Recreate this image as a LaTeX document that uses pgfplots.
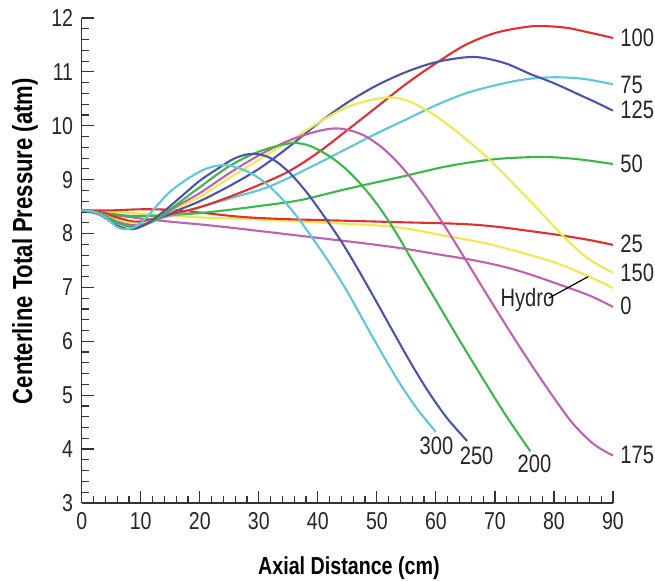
\documentclass[border=0pt]{standalone}
\usepackage{pgfplots}
\pgfplotsset{compat=1.18}
\usepackage{fontspec}
\setmainfont{Liberation Sans}[FakeStretch=0.8]
\definecolor{cR}{HTML}{E0302F}
\definecolor{cC}{HTML}{5EC8D8}
\definecolor{cB}{HTML}{4A55A8}
\definecolor{cG}{HTML}{3CB84A}
\definecolor{cM}{HTML}{C060B0}
\definecolor{cY}{HTML}{F0E850}
\definecolor{axc}{HTML}{333333}
\tikzset{lbl/.style={font=\fontsize{12.6}{15}\selectfont, text=black!85, inner sep=0pt}}
\begin{document}
\begin{tikzpicture}
\begin{axis}[
  scale only axis, width=265.65pt, height=242.5pt,
  xmin=0, xmax=90, ymin=3, ymax=12,
  axis x line*=bottom, axis y line*=left,
  xtick pos=left, ytick pos=left,
  tick align=inside,
  xtick={0,10,...,90}, ytick={3,4,...,12},
  minor x tick num=4, minor y tick num=4,
  major tick length=6pt, minor tick length=3.7pt,
  axis line style={axc, line width=0.7pt},
  every tick/.style={axc, line width=0.6pt},
  tick label style={font=\fontsize{12.2}{14}\selectfont, text=black!85},
  /pgf/number format/assume math mode=true,
  yticklabel style={xshift=-0.8pt},
  xticklabel style={yshift=-1.0pt},
  xlabel={\textbf{Axial Distance (cm)}},
  ylabel={\textbf{Centerline Total Pressure (atm)}},
  xlabel style={font=\fontsize{12.3}{14}\selectfont, at={(axis description cs:0.503,-0.134)}, anchor=center},
  ylabel style={font=\fontsize{13.8}{15}\selectfont, at={(axis description cs:-0.1067,0.54)}, anchor=center},
  clip=false,
  every axis plot/.append style={line width=1.05pt, smooth, tension=0.55},
]
% 0 (magenta)
\addplot[cM] coordinates {(0,8.43)(5,8.35)(10,8.28)(15,8.22)(20,8.17)(26,8.1)(33,8.01)(40,7.92)(47,7.83)(54,7.73)(60,7.62)(64,7.55)(68,7.47)(72,7.37)(76,7.24)(81,7.05)(86,6.85)(90,6.64)};
% Hydro (yellow)
\addplot[cY] coordinates {(0,8.43)(5,8.4)(10,8.37)(15,8.33)(20,8.3)(25,8.28)(30,8.26)(39,8.21)(47,8.17)(54,8.11)(62,7.95)(68,7.83)(72,7.72)(76,7.6)(81,7.43)(86,7.2)(90,6.99)};
% 25 (red)
\addplot[cR] coordinates {(0,8.43)(5,8.43)(10,8.45)(15,8.44)(20,8.39)(27,8.31)(34,8.27)(44,8.24)(54,8.21)(64,8.18)(70,8.13)(75,8.06)(81,7.97)(86,7.88)(90,7.79)};
% 50 (green)
\addplot[cG] coordinates {(0,8.43)(4,8.38)(8,8.33)(12,8.33)(16,8.35)(20,8.38)(25,8.44)(30,8.51)(37,8.62)(45,8.83)(54,9.05)(62,9.25)(70,9.38)(78,9.42)(84,9.38)(90,9.29)};
% 75 (cyan)
\addplot[cC] coordinates {(0,8.43)(3,8.38)(6,8.28)(10,8.2)(14,8.3)(18,8.42)(22,8.55)(26,8.68)(31,8.84)(35,9.03)(40,9.3)(45,9.58)(50,9.86)(55,10.12)(60,10.38)(65,10.6)(70,10.75)(75,10.86)(80,10.9)(85,10.87)(90,10.77)};
% 100 (red)
\addplot[cR] coordinates {(0,8.43)(3,8.4)(6,8.3)(9,8.22)(12,8.27)(16,8.38)(20,8.49)(25,8.68)(30,8.9)(35,9.15)(40,9.5)(45,9.92)(50,10.35)(55,10.78)(60,11.16)(65,11.5)(70,11.72)(75,11.83)(78,11.85)(82,11.82)(86,11.73)(90,11.63)};
% 125 (blue)
\addplot[cB] coordinates {(0,8.43)(3,8.38)(6,8.25)(10,8.17)(13,8.28)(16,8.42)(20,8.6)(25,8.88)(30,9.2)(35,9.6)(40,10.04)(45,10.43)(50,10.75)(55,11.0)(60,11.18)(65,11.27)(68,11.26)(72,11.15)(76,10.96)(80,10.79)(84,10.59)(87,10.44)(90,10.28)};
% 150 (yellow)
\addplot[cY] coordinates {(0,8.43)(3,8.38)(6,8.25)(10,8.18)(13,8.3)(16,8.47)(20,8.68)(25,9.03)(30,9.37)(35,9.7)(40,10.05)(45,10.35)(50,10.5)(53,10.52)(56,10.43)(60,10.18)(64,9.85)(68,9.48)(72,9.05)(76,8.6)(80,8.13)(83,7.8)(86,7.52)(90,7.27)};
% 175 (magenta)
\addplot[cM] coordinates {(0,8.43)(3,8.38)(6,8.22)(9.5,8.15)(13,8.28)(16,8.5)(20,8.75)(25,9.12)(30,9.45)(35,9.72)(40,9.9)(43.5,9.95)(47,9.86)(50,9.67)(53,9.38)(56,9.0)(59,8.55)(62,8.05)(65,7.52)(68,6.98)(71,6.45)(74,5.93)(77,5.43)(80,4.95)(83,4.5)(86,4.16)(88,4.0)(90,3.88)};
% 200 (green)
\addplot[cG] coordinates {(0,8.43)(3,8.37)(6,8.2)(9,8.12)(12,8.22)(15,8.45)(20,8.86)(25,9.25)(30,9.52)(35,9.67)(38,9.65)(41,9.5)(44,9.27)(47,8.95)(50,8.55)(53,8.06)(56,7.5)(60,6.76)(64,6.02)(68,5.3)(72,4.6)(76,3.96)};
% 250 (blue)
\addplot[cB] coordinates {(0,8.43)(3,8.35)(6,8.15)(8.5,8.08)(11,8.18)(14,8.42)(17,8.7)(20,8.98)(23,9.2)(26,9.4)(29,9.48)(32,9.4)(35,9.15)(38,8.78)(41,8.33)(44,7.85)(47,7.3)(50,6.72)(53,6.13)(56,5.55)(59,5.02)(62,4.56)(65.3,4.15)};
% 300 (cyan)
\addplot[cC] coordinates {(0,8.43)(2,8.4)(4,8.3)(6,8.12)(7.5,8.08)(9,8.12)(11,8.3)(13,8.55)(15,8.78)(18,9.02)(21,9.2)(24,9.27)(27,9.2)(30,9.03)(33,8.75)(36,8.38)(39,7.93)(42,7.45)(45,6.92)(48,6.33)(51,5.75)(54,5.2)(57,4.72)(60,4.32)};
% labels
\node[lbl, anchor=west] at (axis cs:91.2,11.63) {100};
\node[lbl, anchor=west] at (axis cs:91.2,10.76) {75};
\node[lbl, anchor=west] at (axis cs:91.2,10.3) {125};
\node[lbl, anchor=west] at (axis cs:91.2,9.3) {50};
\node[lbl, anchor=west] at (axis cs:91.2,7.8) {25};
\node[lbl, anchor=west] at (axis cs:91.2,7.27) {150};
\node[lbl, anchor=west] at (axis cs:91.2,6.65) {0};
\node[lbl, anchor=west] at (axis cs:91.2,3.9) {175};
\node[lbl] at (axis cs:60.1,4.06) {300};
\node[lbl] at (axis cs:66.9,3.87) {250};
\node[lbl] at (axis cs:76.7,3.72) {200};
\node[lbl] at (axis cs:75.5,6.77) {Hydro};
\draw[black, line width=0.6pt] (axis cs:79.1,6.8) -- (axis cs:85.8,7.2);
\end{axis}
\pgfresetboundingbox
\path (-40.85pt,-39pt) rectangle (286.65pt,251.5pt);
\end{tikzpicture}
\end{document}
